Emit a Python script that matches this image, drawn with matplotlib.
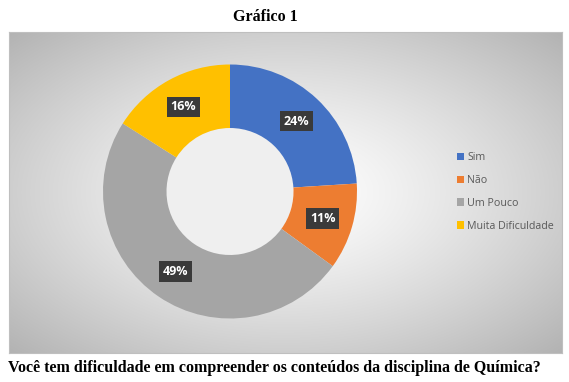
import numpy as np
import matplotlib.pyplot as plt

# data
categories = ['Sim', 'Não', 'Um Pouco', 'Muita Dificuldade']
values = [24, 11, 49, 16]
colors = ['#4472C4', '#ED7D31', '#A5A5A5', '#FFC000']
title = 'Gráfico 1'
caption = 'Você tem dificuldade em compreender os conteúdos da disciplina de Química?'

W, H = 569, 382
fig = plt.figure(figsize=(W / 100, H / 100), dpi=100)
fig.patch.set_facecolor('white')

def frac(x0, y0, x1, y1):
    # pixel box (top-left origin) -> figure fraction
    return [x0 / W, 1 - y1 / H, (x1 - x0) / W, (y1 - y0) / H]

# chart area with radial gradient background
bg = fig.add_axes(frac(9, 32, 562, 353))
yy, xx = np.mgrid[-1:1:300j, -1:1:500j]
r = np.sqrt(xx ** 2 + yy ** 2) / np.sqrt(2)
shade = 1.0 - 0.30 * r ** 1.3
bg.imshow(np.dstack([shade] * 3), aspect='auto', extent=[0, 1, 0, 1])
bg.set_xlim(0, 1)
bg.set_ylim(0, 1)
bg.set_xticks([])
bg.set_yticks([])
for s in bg.spines.values():
    s.set_color('#bfbfbf')
    s.set_linewidth(0.8)

# donut
cx, cy, rad = 230, 191.5, 127
ax = fig.add_axes(frac(cx - rad, cy - rad, cx + rad, cy + rad))
ax.set_facecolor('none')
wedges, texts, autotexts = ax.pie(
    values, colors=colors, startangle=90, counterclock=False, radius=1.0,
    wedgeprops=dict(width=0.5, edgecolor='none'),
    autopct='%1.0f%%', pctdistance=0.76,
    textprops=dict(color='white', fontsize=9, fontweight='bold', family='Open Sans'))
for t in autotexts:
    t.set_bbox(dict(boxstyle='square,pad=0.3', facecolor='#3a3a3a', edgecolor='none'))
# inner hole with soft shading
hole = plt.Circle((0, 0), 0.5, facecolor='#efefef', edgecolor='none', zorder=0)
ax.add_patch(hole)
ax.set_xlim(-1, 1)
ax.set_ylim(-1, 1)
ax.set_aspect('equal')
ax.axis('off')

# legend
handles = [plt.Rectangle((0, 0), 1, 1, facecolor=c, edgecolor='none') for c in colors]
leg = fig.legend(handles, categories, loc='center left', bbox_to_anchor=(447 / W, 1 - 192 / H),
                 frameon=False, handlelength=0.7, handleheight=0.7,
                 handletextpad=0.3, labelspacing=1.1, prop=dict(family='Open Sans', size=7.7))
for t in leg.get_texts():
    t.set_color('#595959')

# title and caption
fig.text(265 / W, 1 - 17 / H, title, ha='center', va='center',
         family='Liberation Serif', fontweight='bold', fontsize=11.5)
fig.text(8 / W, 1 - 368 / H, caption, ha='left', va='center',
         family='Liberation Serif', fontweight='bold', fontsize=11.5)

fig.savefig('out.png', dpi=100)
